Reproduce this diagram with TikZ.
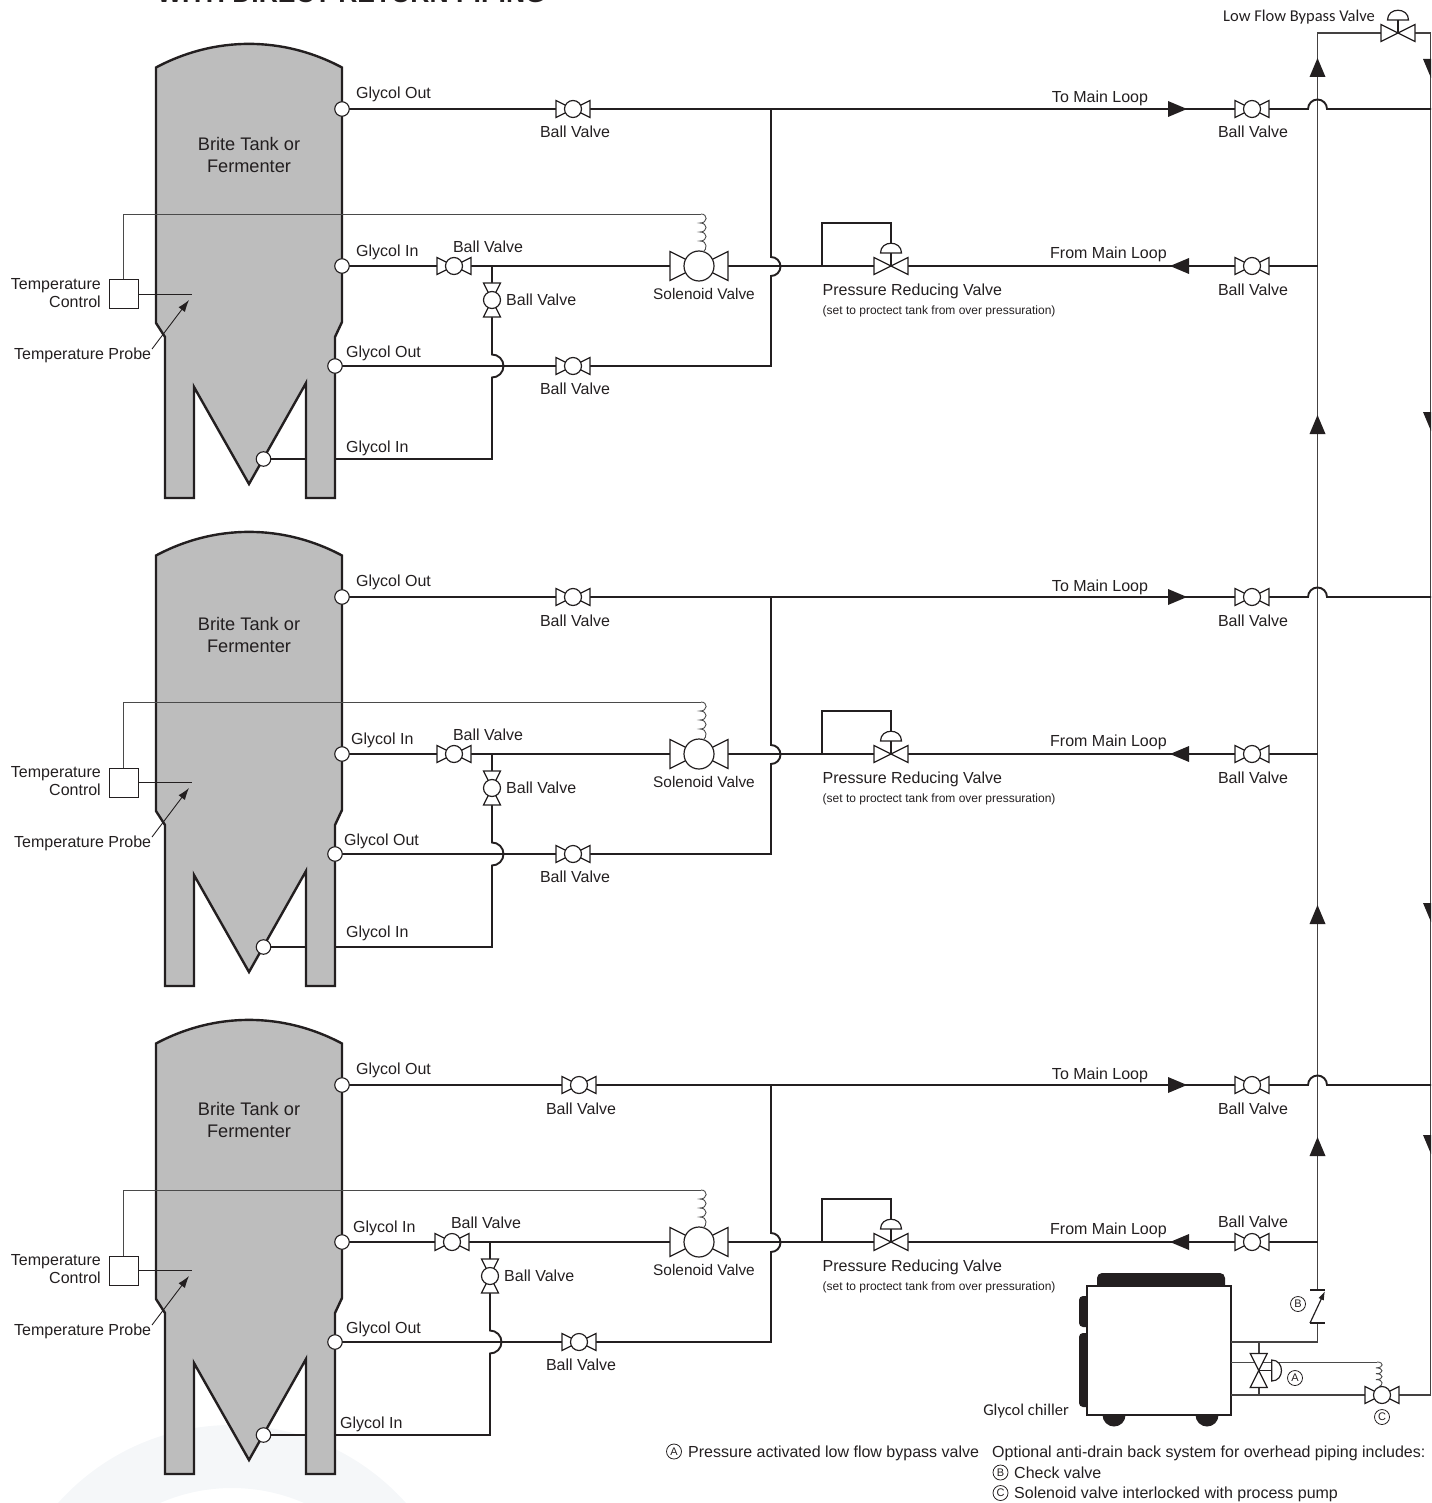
\documentclass[tikz,border=0pt]{standalone}
\usepackage{fontspec}
\setmainfont{Liberation Sans}
\newfontfamily\narrowfont{Carlito}
\usetikzlibrary{arrows.meta}

\definecolor{ink}{HTML}{231F20}
\definecolor{tankGray}{HTML}{BDBDBD}
\definecolor{wireGray}{HTML}{4A4A4A}
\definecolor{ghostRing}{HTML}{F5F7F9}

\tikzset{
  lbl/.style={font=\fontsize{16}{18}\selectfont,inner sep=0pt,text=ink},
  tanklbl/.style={font=\fontsize{18.2}{21.4}\selectfont,inner sep=0pt,text=ink,align=center},
  tinylbl/.style={font=\fontsize{12}{14}\selectfont,inner sep=0pt,text=ink},
  brandlbl/.style={font=\narrowfont\fontsize{16.5}{18}\selectfont,inner sep=0pt,text=ink},
  letterdot/.style={circle,draw=ink,line width=.8pt,minimum size=15pt,inner sep=0pt,font=\fontsize{11}{12}\selectfont,text=ink},
  pipe/.style={draw=ink,line width=1.9pt},
  riser/.style={draw=ink!85!white,line width=1.6pt},
  wire/.style={draw=wireGray,line width=.9pt},
  fitting/.style={draw=ink,line width=1.2pt,fill=white,line join=miter},
  tankbody/.style={draw=ink,line width=2.4pt,fill=tankGray,line join=miter},
  port/.style={circle,draw=ink,line width=1.1pt,fill=white,minimum size=14.5pt,inner sep=0pt},
  ctrlbox/.style={rectangle,draw=ink,line width=1pt,fill=white,minimum size=29pt,inner sep=0pt},
  pointer/.style={draw=ink,line width=.9pt,-{Latex[length=12pt,width=8pt]}},
  % valve symbols, drawn round their centre
  ballvalve/.pic={
    \path[fitting] (-17,-8.5) -- (-17,8.5) -- (17,-8.5) -- (17,8.5) -- cycle;
    \path[fitting] (0,0) circle[radius=8.5pt];
  },
  bigvalve/.pic={
    \path[fitting] (-29,-14.5) -- (-29,14.5) -- (29,-14.5) -- (29,14.5) -- cycle;
    \path[fitting] (0,0) circle[radius=15pt];
  },
  ctrlvalve/.pic={
    \path[fitting] (-17,-8.5) -- (-17,8.5) -- (17,-8.5) -- (17,8.5) -- cycle;
    \draw[fitting] (0,0) -- (0,-13);
    \path[fitting] (-10.5,-13) .. controls (-10.5,-26) and (10.5,-26) .. (10.5,-13) -- cycle;
  },
  coil/.pic={
    \draw[wire] (0,0) .. controls (7,0) and (7,9) .. (-1,9) .. controls (7,9) and (7,18) .. (-1,18)
      .. controls (7,18) and (7,27) .. (-1,27) .. controls (7,27) and (6,36) .. (2,38);
  },
  flowhead/.pic={
    \fill[ink] (0,0) -- (-19,-8) -- (-19,8) -- cycle;
  },
}

% one tank with its piping: tag, shift down, valve x, Glycol In x, tee shift,
% lower Glycol Out x, cone Glycol In x, cone label y, right valve label offset
\newcommand{\tankrow}[9]{%
  \begin{scope}[yshift=-#2pt]
    \coordinate (#1outPort) at (342,109);
    \coordinate (#1outTee) at (771,109);
    \coordinate (#1outHop) at (1308,109);
    \coordinate (#1outEnd) at (1431,109);
    \coordinate (#1inPort) at (342,266);
    \coordinate (#1inEnd) at (1317.5,266);
    \coordinate (#1lowPort) at (335,366);
    \coordinate (#1lowTee) at (771,366);
    \coordinate (#1midHop) at (771,257);
    \coordinate (#1conePort) at (263.5,459);
    \coordinate (#1branch) at (492+#5,266);
    \coordinate (#1coneHop) at (492+#5,354.5);
    \coordinate (#1coneBend) at (492+#5,459);
    \coordinate (#1prvTee) at (822,266);
    \coordinate (#1prvTop) at (891,223);
    \coordinate (#1prvDome) at (891,243);
    \draw[pipe] (#1outPort) -- (#1outHop) arc[start angle=180,end angle=0,radius=9.5pt] -- (#1outEnd);
    \draw[pipe] (#1outTee) -- (#1midHop) arc[start angle=90,end angle=-90,radius=9.5pt] -- (#1lowTee) -- (#1lowPort);
    \draw[pipe] (#1inPort) -- (#1inEnd);
    \draw[pipe] (#1branch) -- (#1coneHop) arc[start angle=90,end angle=-90,radius=11.5pt] -- (#1coneBend) -- (#1conePort);
    \draw[pipe] (#1prvTee) |- (#1prvTop) -- (#1prvDome);
    \path[tankbody] (156,67.5) .. controls (215,36) and (283,36) .. (342,67.5) -- (342,322) -- (335,337)
      -- (335,498) -- (306,498) -- (306,383) -- (249,484) -- (194,387) -- (194,498) -- (165,498)
      -- (165,337) -- (156,323) -- cycle;
    \node[port] (#1portA) at (#1outPort) {};
    \node[port] (#1portB) at (#1inPort) {};
    \node[port] (#1portC) at (#1lowPort) {};
    \node[port] (#1portD) at (#1conePort) {};
    \pic (#1v1) at (#3,109) {ballvalve};
    \pic (#1v2) at (1252,109) {ballvalve};
    \pic (#1v3) at (454+#5,266) {ballvalve};
    \pic[rotate=90] (#1v4) at (492+#5,300) {ballvalve};
    \pic (#1v5) at (699,266) {bigvalve};
    \pic (#1v6) at (891,266) {ctrlvalve};
    \pic (#1v7) at (1252,266) {ballvalve};
    \pic (#1v8) at (#3,366) {ballvalve};
    \pic (#1head1) at (1187,109) {flowhead};
    \pic[rotate=180] (#1head2) at (1170,266) {flowhead};
    \node[ctrlbox] (#1box) at (123.5,294.5) {};
    \coordinate (#1coilTop) at (701,214);
    \coordinate (#1probeEnd) at (192,294.5);
    \coordinate (#1probeTail) at (152,349);
    \coordinate (#1probeTip) at (189,300);
    \draw[wire] (#1box.north) |- (#1coilTop);
    \pic (#1coil) at (#1coilTop) {coil};
    \draw[draw=ink,line width=1.9pt] (#1box.east) -- (#1probeEnd);
    \draw[pointer] (#1probeTail) -- (#1probeTip);
    \node[lbl,anchor=base west] (#1t1) at (356,98.5) {Glycol Out};
    \node[lbl,anchor=base west] (#1t2) at (#4,256.5) {Glycol In};
    \node[lbl,anchor=base west] (#1t3) at (#6,357.5) {Glycol Out};
    \node[lbl,anchor=base west] (#1t4) at (#7,#8) {Glycol In};
    \node[lbl,anchor=base] (#1t5) at (#3+2,138) {Ball Valve};
    \node[lbl,anchor=base] (#1t6) at (1253,138) {Ball Valve};
    \node[lbl,anchor=base] (#1t7) at (488+#5,252.5) {Ball Valve};
    \node[lbl,anchor=base west] (#1t8) at (506+#5,305.5) {Ball Valve};
    \node[lbl,font=\fontsize{15.4}{18}\selectfont,anchor=base] (#1t9) at (704,299.5) {Solenoid Valve};
    \node[lbl,anchor=base] (#1t10) at (#3+2,394) {Ball Valve};
    \node[lbl,anchor=base] (#1t11) at (1253,266+#9) {Ball Valve};
    \node[lbl,anchor=base] (#1t12) at (1100,103) {To Main Loop};
    \node[lbl,anchor=base west] (#1t13) at (1050,258.5) {From Main Loop};
    \node[lbl,anchor=base west] (#1t14) at (822.5,295) {Pressure Reducing Valve};
    \node[tinylbl,anchor=base west] (#1t15) at (822.5,314) {(set to proctect tank from over pressuration)};
    \node[lbl,anchor=east,align=right] (#1t16) at (101,293) {Temperature\\Control};
    \node[lbl,anchor=base west] (#1t17) at (14,359) {Temperature Probe};
  \end{scope}
}

\begin{document}
\begin{tikzpicture}[x=1pt,y=-1pt]
  \path[use as bounding box,clip] (0,0) rectangle (1431,1503);
  \fill[ghostRing,even odd rule] (232,1658) circle[radius=233pt] (232,1668) circle[radius=180pt];
  \node[font=\bfseries\fontsize{26.5}{28}\selectfont,inner sep=0pt,text=ink,anchor=base west] (title) at (157,3) {WITH DIRECT RETURN PIPING};

  % the two main loop risers
  \coordinate (riserFoot) at (1317.5,1290);
  \coordinate (riserTop) at (1317.5,33);
  \coordinate (returnTop) at (1430.5,33);
  \coordinate (returnFoot) at (1430.5,1395);
  \draw[riser] (riserFoot) -- (riserTop) -- (returnTop) -- (returnFoot);

  \tankrow{a}{0}{573}{356}{0}{346}{346}{452}{29}
  \tankrow{b}{488}{573}{351}{0}{344}{346}{449}{29}
  \tankrow{c}{976}{579}{353}{-2}{346}{340}{452}{-15}

  \node[tanklbl] (tankA) at (249,155) {Brite Tank or\\Fermenter};
  \node[tanklbl] (tankB) at (249,635) {Brite Tank or\\Fermenter};
  \node[tanklbl] (tankC) at (249,1120) {Brite Tank or\\Fermenter};

  \pic (bypassValve) at (1398,33) {ctrlvalve};
  \node[brandlbl,anchor=base west] (bypasslbl) at (1223,22) {Low Flow Bypass Valve};

  \pic[rotate=90] (riserHead1) at (1317.5,58) {flowhead};
  \pic[rotate=90] (riserHead2) at (1317.5,415) {flowhead};
  \pic[rotate=90] (riserHead3) at (1317.5,905) {flowhead};
  \pic[rotate=90] (riserHead4) at (1317.5,1137) {flowhead};
  \pic[rotate=-90] (returnHead1) at (1431,78) {flowhead};
  \pic[rotate=-90] (returnHead2) at (1431,431) {flowhead};
  \pic[rotate=-90] (returnHead3) at (1431,922) {flowhead};
  \pic[rotate=-90] (returnHead4) at (1431,1154) {flowhead};

  % chiller
  \fill[ink,rounded corners=5pt] (1097,1273) rectangle (1225,1297);
  \fill[ink,rounded corners=4pt] (1079,1296) rectangle (1095,1327);
  \fill[ink,rounded corners=4pt] (1079,1333) rectangle (1095,1407);
  \fill[ink] (1114,1415) circle[radius=11.5pt];
  \fill[ink] (1207,1415) circle[radius=11.5pt];
  \node[rectangle,draw=ink,line width=1.1pt,fill=white,minimum width=144pt,minimum height=129pt,inner sep=0pt] (chiller) at (1159,1350.5) {};
  \node[brandlbl,anchor=base east] (chillerlbl) at (1069,1415) {Glycol chiller};

  \coordinate (chillerOut) at (1231,1342);
  \coordinate (chillerIn) at (1231,1395);
  \coordinate (checkLow) at (1317.5,1323);
  \coordinate (bypassTop) at (1258.7,1342);
  \coordinate (bypassLow) at (1258.7,1395);
  \draw[riser] (chillerOut) -| (checkLow);
  \draw[riser] (chillerIn) -- (returnFoot);
  \draw[riser] (bypassTop) -- (bypassLow);
  \coordinate (checkA) at (1310,1323);
  \coordinate (checkB) at (1325,1323);
  \coordinate (checkC) at (1310,1290);
  \coordinate (checkD) at (1325,1290);
  \coordinate (checkTip) at (1325,1291);
  \draw[fitting] (checkA) -- (checkB) (checkC) -- (checkD);
  \draw[draw=ink,line width=1.2pt,-{Latex[length=9pt,width=6pt]}] (checkA) -- (checkTip);

  \coordinate (chillerWire) at (1231,1362);
  \coordinate (coilWire) at (1377,1362);
  \draw[wire] (chillerWire) -- (coilWire);
  \pic[yscale=.65] (chillerCoil) at (coilWire) {coil};
  \pic[rotate=-90] (valveA) at (1258.7,1370.5) {ctrlvalve};
  \pic (valveC) at (1382,1395) {ballvalve};

  \node[letterdot] (markA) at (1295,1378) {A};
  \node[letterdot] (markB) at (1298,1304) {B};
  \node[letterdot] (markC) at (1382,1417) {C};

  % notes under the chiller
  \node[letterdot] (noteDotA) at (674,1451.5) {A};
  \node[lbl,anchor=base west] (noteA) at (688,1457) {Pressure activated low flow bypass valve};
  \node[lbl,anchor=base west] (noteOpt) at (992,1457) {Optional anti-drain back system for overhead piping includes:};
  \node[letterdot] (noteDotB) at (1000.5,1472.5) {B};
  \node[lbl,anchor=base west] (noteB) at (1014,1478) {Check valve};
  \node[letterdot] (noteDotC) at (1000.5,1493) {C};
  \node[lbl,anchor=base west] (noteC) at (1014,1498) {Solenoid valve interlocked with process pump};
\end{tikzpicture}
\end{document}
